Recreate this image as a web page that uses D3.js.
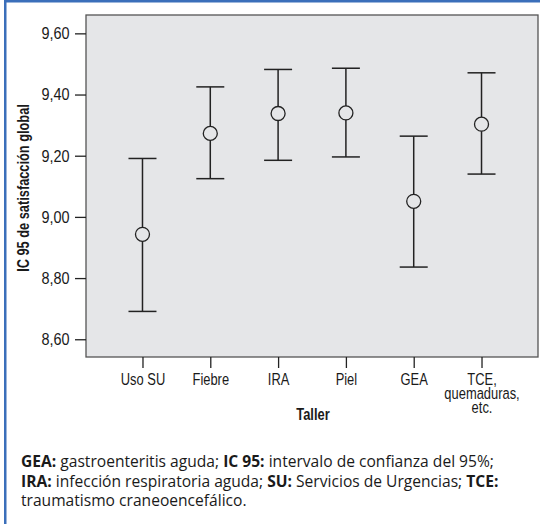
<!DOCTYPE html>
<html>
<head>
<meta charset="utf-8">
<script src="https://cdn.jsdelivr.net/npm/d3@7"></script>
<style>
  body { margin: 0; background: #fff; }
  .narrow { font-family: "Liberation Sans", Arial, sans-serif; }
</style>
</head>
<body>
<div id="plot"></div>
<script>
var categories = ["Uso SU", "Fiebre", "IRA", "Piel", "GEA", "TCE, quemaduras, etc."];
var means = [8.943, 9.273, 9.338, 9.340, 9.051, 9.303];
var lowers = [8.691, 9.125, 9.185, 9.196, 8.836, 9.140];
var uppers = [9.191, 9.425, 9.482, 9.486, 9.264, 9.471];
var yTicks = [8.6, 8.8, 9.0, 9.2, 9.4, 9.6];

var W = 540, H = 524;
var margin = {top: 15, right: 2, bottom: 167, left: 86},
    width = W - margin.left - margin.right,
    height = H - margin.top - margin.bottom;

// the chart font is a condensed one: squeeze a normal face horizontally
var sqX = 0.76, sqY = 0.85;

var root = d3.select("#plot")
  .append("svg")
    .attr("width", W)
    .attr("height", H);

// blue frame (top + left)
root.append("rect").attr("x", 4).attr("y", 0).attr("width", W - 4).attr("height", 2.5).attr("fill", "#3b6fba");
root.append("rect").attr("x", 4).attr("y", 0).attr("width", 2.5).attr("height", H).attr("fill", "#3b6fba");

var svg = root.append("g")
    .attr("transform", "translate(" + margin.left + "," + margin.top + ")");

var x = d3.scalePoint()
    .domain(categories)
    .range([0, width])
    .padding(0.833);

var y = d3.scaleLinear()
    .domain([8.542, 9.66])
    .range([height, 0]);

svg.append("rect")
    .attr("width", width)
    .attr("height", height)
    .attr("fill", "#e5e6e8")
    .attr("stroke", "#555")
    .attr("stroke-width", 1.3);

var fmt = function(d) { return d3.format(".2f")(d).replace(".", ","); };

var yAxis = svg.append("g")
    .call(d3.axisLeft(y).tickValues(yTicks).tickFormat(fmt).tickSize(11).tickPadding(5));
yAxis.attr("font-family", null).attr("class", "narrow");
yAxis.select(".domain").remove();
yAxis.selectAll("line").attr("stroke", "#222").attr("stroke-width", 1.3);
yAxis.selectAll("text")
    .style("font-size", "17px")
    .attr("fill", "#1a1a1a")
    .attr("x", -16.5 / sqY)
    .attr("transform", "scale(" + sqY + ",1)");

var xAxis = svg.append("g")
    .attr("transform", "translate(0," + height + ")")
    .call(d3.axisBottom(x).tickSize(11).tickPadding(5).tickFormat(""));
xAxis.attr("font-family", null).attr("class", "narrow");
xAxis.select(".domain").remove();
xAxis.selectAll("line").attr("stroke", "#222").attr("stroke-width", 1.3);

// x labels, the last one on three lines
xAxis.selectAll(".tick").each(function(d) {
  var parts = d === "TCE, quemaduras, etc." ? ["TCE,", "quemaduras,", "etc."] : [d];
  var t = d3.select(this).append("text")
      .attr("fill", "#1a1a1a")
      .attr("text-anchor", "middle")
      .attr("transform", "scale(" + sqX + ",1)")
      .style("font-size", "17px")
      .attr("y", 28);
  parts.forEach(function(p, i) {
    t.append("tspan").attr("x", 0).attr("dy", i === 0 ? 0 : 14).text(p);
  });
});

// error bars
var g = svg.selectAll(".bar")
    .data(categories)
    .enter()
    .append("g");

g.append("line")
    .attr("x1", function(d) { return x(d); })
    .attr("x2", function(d) { return x(d); })
    .attr("y1", function(d, i) { return y(uppers[i]); })
    .attr("y2", function(d, i) { return y(lowers[i]); })
    .attr("stroke", "#222").attr("stroke-width", 1.5);

g.append("line")
    .attr("x1", function(d) { return x(d) - 14; })
    .attr("x2", function(d) { return x(d) + 14; })
    .attr("y1", function(d, i) { return y(uppers[i]); })
    .attr("y2", function(d, i) { return y(uppers[i]); })
    .attr("stroke", "#222").attr("stroke-width", 1.5);

g.append("line")
    .attr("x1", function(d) { return x(d) - 14; })
    .attr("x2", function(d) { return x(d) + 14; })
    .attr("y1", function(d, i) { return y(lowers[i]); })
    .attr("y2", function(d, i) { return y(lowers[i]); })
    .attr("stroke", "#222").attr("stroke-width", 1.5);

g.append("circle")
    .attr("cx", function(d) { return x(d); })
    .attr("cy", function(d, i) { return y(means[i]); })
    .attr("r", 7)
    .attr("fill", "#e5e6e8")
    .attr("stroke", "#222").attr("stroke-width", 1.3);

// axis titles
svg.append("text")
    .attr("class", "narrow")
    .attr("text-anchor", "middle")
    .attr("transform", "scale(" + sqX + ",1)")
    .attr("x", (width / 2 + 1) / sqX)
    .attr("y", height + 63)
    .style("font-size", "17px")
    .style("font-weight", "bold")
    .attr("fill", "#1a1a1a")
    .text("Taller");

svg.append("text")
    .attr("class", "narrow")
    .attr("text-anchor", "middle")
    .attr("transform", "rotate(-90) scale(0.8,1)")
    .attr("x", -173 / 0.8)
    .attr("y", -57)
    .style("font-size", "16px")
    .style("font-weight", "bold")
    .attr("fill", "#1a1a1a")
    .text("IC 95 de satisfacción global");

// footnote
var notes = [
  [["GEA:", true], [" gastroenteritis aguda; ", false], ["IC 95:", true], [" intervalo de confianza del 95%;", false]],
  [["IRA:", true], [" infección respiratoria aguda; ", false], ["SU:", true], [" Servicios de Urgencias; ", false], ["TCE:", true]],
  [["traumatismo craneoencefálico.", false]]
];
notes.forEach(function(line, i) {
  var t = root.append("text")
      .attr("x", 21)
      .attr("y", 467 + i * 19.5)
      .style("font-family", "'Open Sans', sans-serif")
      .style("font-size", "15.6px")
      .attr("fill", "#1a1a1a");
  line.forEach(function(p) {
    t.append("tspan").style("font-weight", p[1] ? "bold" : "normal").text(p[0]);
  });
});
</script>
</body>
</html>
